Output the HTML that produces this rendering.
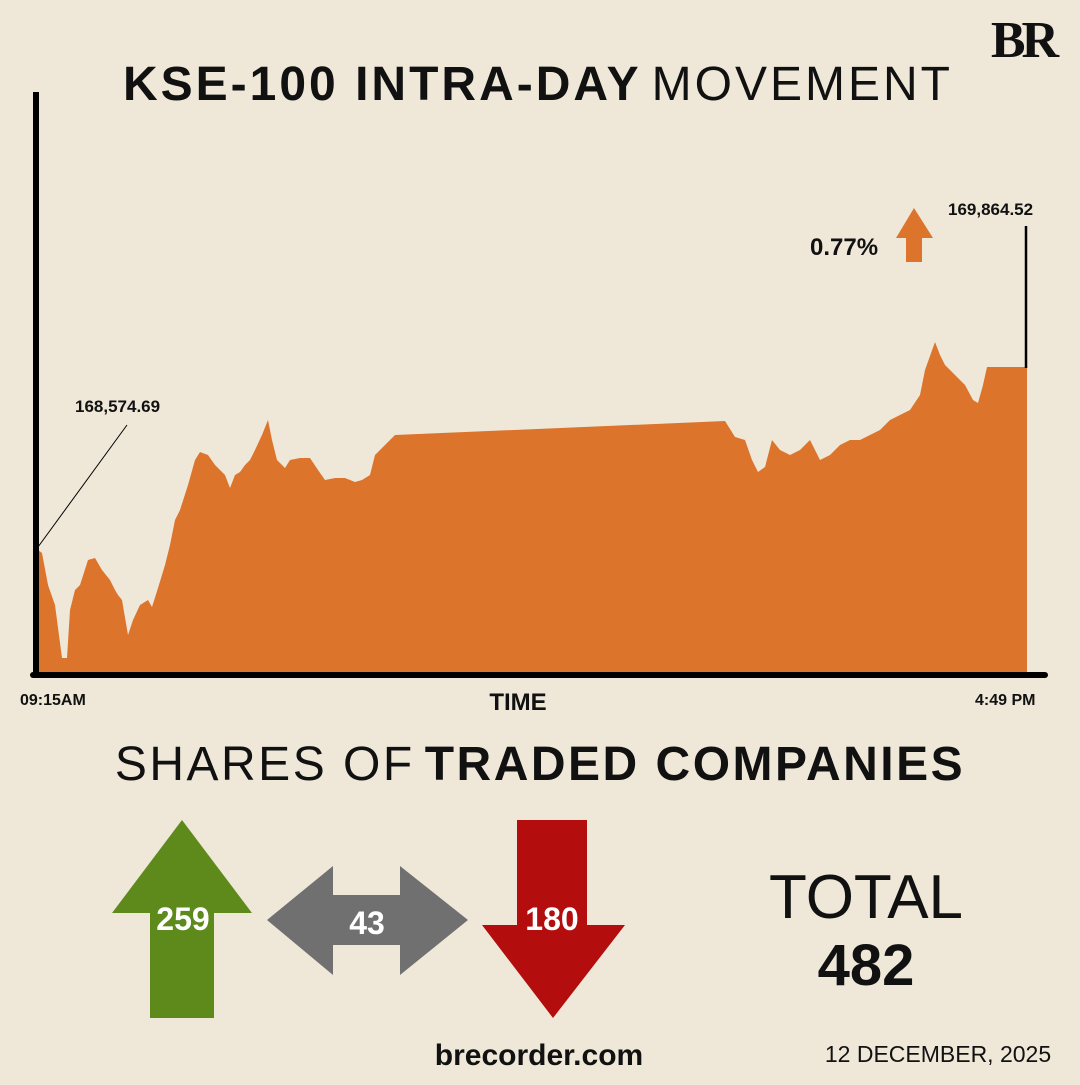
<!DOCTYPE html>
<html><head><style>
body{margin:0;width:1080px;height:1080px;background:#efe8d9;font-family:"Liberation Sans",sans-serif;overflow:hidden}
</style></head><body>
<svg width="1080" height="1080" viewBox="0 0 1080 1080" xmlns="http://www.w3.org/2000/svg">
<rect width="1080" height="1080" fill="#efe8d9"/>
<text x="1023" y="57" font-family="Liberation Serif" font-weight="bold" font-size="52" text-anchor="middle" fill="#111" letter-spacing="-4">BR</text>
<text x="538" y="100" text-anchor="middle" font-size="48" fill="#111" letter-spacing="3"><tspan font-weight="bold">KSE-100 INTRA-DAY</tspan><tspan font-weight="normal" dx="10">MOVEMENT</tspan></text>
<polygon fill="#dc742c" points="38,672 38,550 42,553 48,585 55,605 62,658 67,658 70,610 75,590 80,585 88,560 95,558 102,570 110,580 115,590 118,595 122,600 128,635 133,620 140,605 148,600 152,607 158,588 165,565 170,545 175,520 180,510 188,485 195,460 200,452 208,455 215,465 225,475 230,488 235,475 240,472 245,465 250,460 255,450 262,435 268,420 272,440 277,460 285,468 290,460 300,458 310,458 318,470 325,480 335,478 345,478 355,482 362,480 370,475 375,455 385,445 395,435 725,421 735,437 745,440 752,460 758,472 765,467 772,440 780,450 790,455 800,450 810,440 820,460 830,455 840,445 850,440 860,440 870,435 880,430 890,420 900,415 910,410 920,395 925,370 935,342 940,355 945,365 955,375 965,385 973,400 978,403 983,385 987,367 1027,367 1027,672"/>
<line x1="36" y1="92" x2="36" y2="677" stroke="#000" stroke-width="6"/>
<line x1="33" y1="675" x2="1045" y2="675" stroke="#000" stroke-width="6" stroke-linecap="round"/>
<line x1="1026" y1="226" x2="1026" y2="368" stroke="#000" stroke-width="2.5"/>
<line x1="38" y1="547" x2="127" y2="425" stroke="#000" stroke-width="1"/>
<text x="75" y="412" font-size="17" font-weight="bold" fill="#111">168,574.69</text>
<text x="948" y="215" font-size="17" font-weight="bold" fill="#111">169,864.52</text>
<text x="810" y="255" font-size="24" font-weight="bold" fill="#111">0.77%</text>
<polygon fill="#dc742c" points="914,208 896,238 906,238 906,262 922,262 922,238 933,238"/>
<text x="20" y="705" font-size="16" font-weight="bold" fill="#111">09:15AM</text>
<text x="518" y="710" font-size="24" font-weight="bold" fill="#111" text-anchor="middle">TIME</text>
<text x="975" y="705" font-size="16" font-weight="bold" fill="#111">4:49 PM</text>
<text x="540" y="780" text-anchor="middle" font-size="48" fill="#111" letter-spacing="2.5"><tspan>SHARES OF</tspan><tspan font-weight="bold" dx="10">TRADED COMPANIES</tspan></text>
<polygon fill="#5e8a1c" points="182,820 252,913 214,913 214,1018 150,1018 150,913 112,913"/>
<text x="183" y="930" text-anchor="middle" font-size="32" font-weight="bold" fill="#fff">259</text>
<polygon fill="#707070" points="267,920 333,866 333,895 400,895 400,866 468,920 400,975 400,945 333,945 333,975"/>
<text x="367" y="934" text-anchor="middle" font-size="32" font-weight="bold" fill="#fff">43</text>
<polygon fill="#b30d0d" points="517,820 587,820 587,925 625,925 553,1018 482,925 517,925"/>
<text x="552" y="930" text-anchor="middle" font-size="32" font-weight="bold" fill="#fff">180</text>
<text x="866" y="918" text-anchor="middle" font-size="62" fill="#111">TOTAL</text>
<text x="866" y="985" text-anchor="middle" font-size="58" font-weight="bold" fill="#111">482</text>
<text x="539" y="1065" text-anchor="middle" font-size="30" font-weight="bold" fill="#111">brecorder.com</text>
<text x="938" y="1062" text-anchor="middle" font-size="23" fill="#111">12 DECEMBER, 2025</text>
</svg>
</body></html>
